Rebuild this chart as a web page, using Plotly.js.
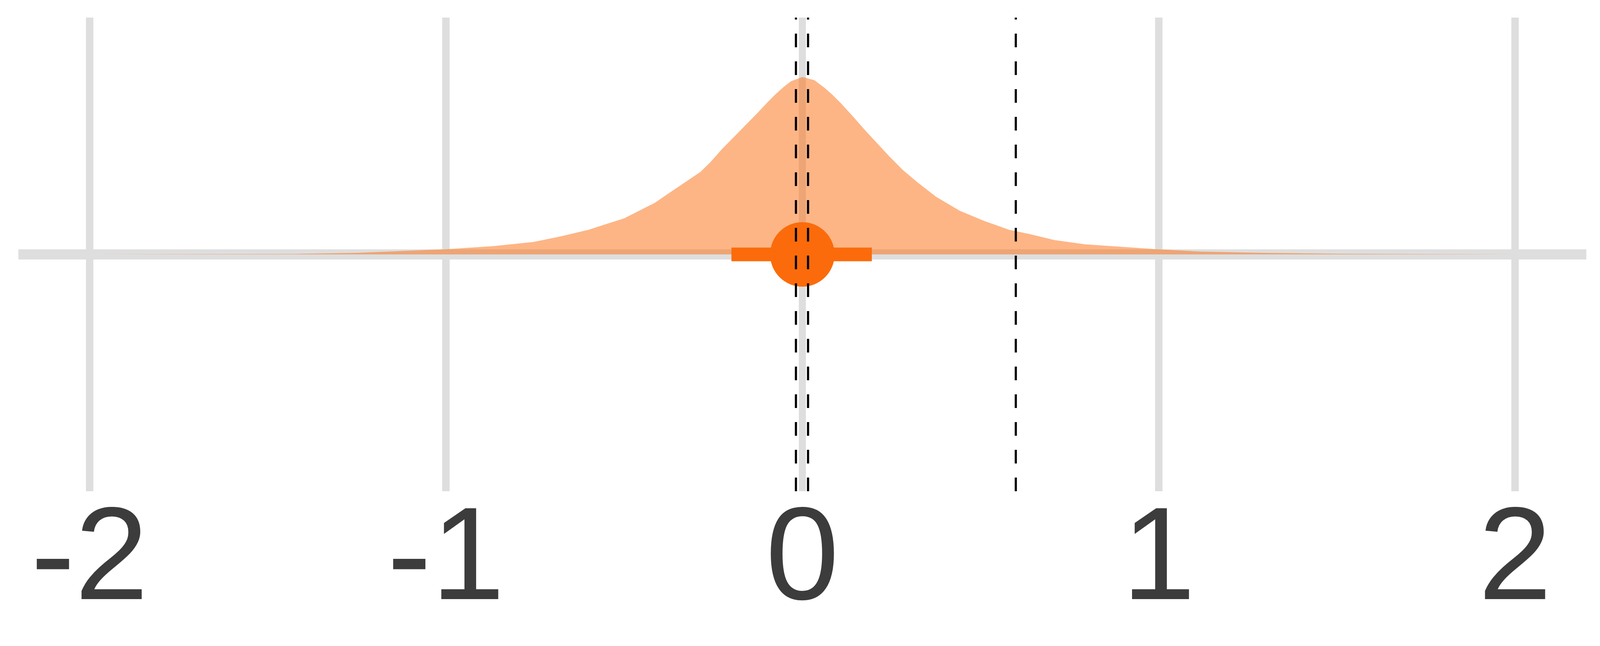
<!DOCTYPE html>
<html>
<head>
<meta charset="utf-8">
<script src="https://cdn.plot.ly/plotly-3.0.1.min.js"></script>
<style>html,body{margin:0;padding:0;background:#fff;overflow:hidden;}#chart{width:100vw;height:100vh;}</style>
</head>
<body>
<div id="chart"></div>
<script>
// Posterior density (relative height, peak = 1)
const densityX = [-2.0, -1.7, -1.42, -1.25, -1.0, -0.87, -0.755, -0.68, -0.60, -0.50, -0.414, -0.367, -0.33, -0.286, -0.257, -0.225, -0.195, -0.159, -0.126, -0.097, -0.075, -0.053, -0.032, 0.0, 0.034, 0.063, 0.085, 0.110, 0.146, 0.176, 0.209, 0.245, 0.282, 0.325, 0.376, 0.441, 0.510, 0.580, 0.637, 0.707, 0.794, 0.898, 0.995, 1.117, 1.292, 1.51, 1.77, 2.0];
const densityY = [0, 0.001, 0.003, 0.009, 0.029, 0.046, 0.070, 0.101, 0.139, 0.203, 0.291, 0.355, 0.405, 0.465, 0.522, 0.595, 0.656, 0.729, 0.797, 0.859, 0.903, 0.943, 0.976, 1.0, 0.982, 0.938, 0.899, 0.848, 0.769, 0.700, 0.628, 0.551, 0.476, 0.403, 0.324, 0.247, 0.189, 0.139, 0.115, 0.081, 0.057, 0.042, 0.029, 0.016, 0.009, 0.004, 0.002, 0];

// Point estimate and interval
const pointEstimate = [0.0];
const intervalLow = -0.199;
const intervalHigh = 0.195;

// Reference (dashed) lines
const refLines = [-0.018, 0.016, 0.599];

// Axis ticks
const tickValues = [-2, -1, 0, 1, 2];
const tickLabels = ["-2", "-1", "0", "1", "2"];

const orange = 'rgb(251,107,11)';
const gridColor = '#DEDEDE';

// The design is 5905 x 1653; fit horizontally to the actual window.
const W = window.innerWidth || 5905;
const H = window.innerHeight || 1653;
const sx = W / 5905;
const sy = H / 1653;

const traces = [
  {
    x: densityX, y: densityY, type: 'scatter', mode: 'lines',
    fill: 'tozeroy', fillcolor: 'rgba(251,107,11,0.5)',
    line: {width: 0, color: 'rgba(251,107,11,0)'},
    hoverinfo: 'skip'
  },
  {
    x: [intervalLow, intervalHigh], y: [0, 0], type: 'scatter', mode: 'lines',
    line: {width: 35 * sy, color: orange}, hoverinfo: 'skip'
  },
  {
    x: pointEstimate, y: [0], type: 'scatter', mode: 'markers',
    marker: {size: 165 * sy, color: orange, line: {width: 0}}, hoverinfo: 'skip'
  }
];

const shapes = refLines.map(v => ({
  type: 'line', xref: 'x', yref: 'paper', x0: v, x1: v, y0: 0, y1: 1,
  line: {color: '#000000', width: Math.max(5, 8 * sx), dash: Math.round(35 * sy) + 'px,' + Math.round(36 * sy) + 'px'},
  layer: 'above'
}));

const fontFamily = '"Liberation Sans", Arial, sans-serif';

const layout = {
  width: W, height: H,
  margin: {l: 68 * sx, r: 51 * sx, t: 45 * sy, b: 396 * sy, pad: 0},
  paper_bgcolor: '#ffffff', plot_bgcolor: '#ffffff',
  showlegend: false,
  font: {family: fontFamily, color: '#3C3C3C'},
  xaxis: {
    range: [-2.2, 2.2], tickmode: 'array', tickvals: tickValues, ticktext: tickLabels,
    showgrid: true, gridcolor: gridColor, gridwidth: Math.max(18, 27 * sx),
    zeroline: false, showline: false, ticks: '', ticklabelstandoff: Math.round(-63 * sy),
    tickfont: {size: 338 * sy, color: '#3C3C3C', family: fontFamily},
    fixedrange: true
  },
  yaxis: {
    range: [-1.335, 1.335], tickmode: 'array', tickvals: [0], showticklabels: false,
    showgrid: true, gridcolor: gridColor, gridwidth: 26 * sy,
    zeroline: false, showline: false, ticks: '', fixedrange: true
  },
  shapes: shapes
};

Plotly.newPlot('chart', traces, layout, {displayModeBar: false, staticPlot: true});
</script>
</body>
</html>
